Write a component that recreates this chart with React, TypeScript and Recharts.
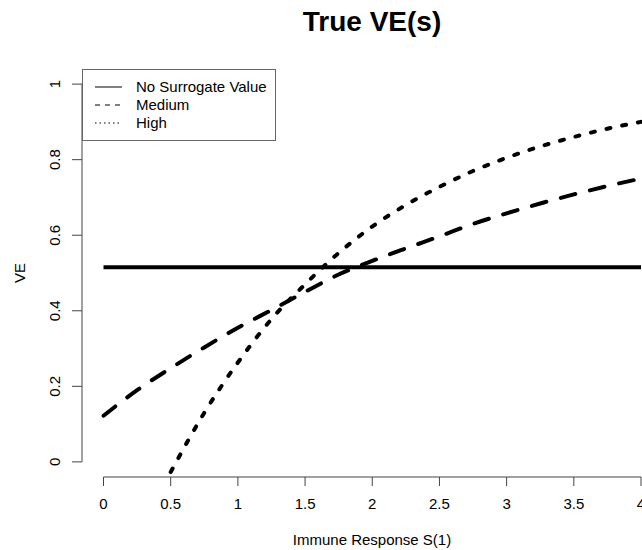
import React from "react";
import { LineChart, Line, XAxis, YAxis, ReferenceLine } from "recharts";

const FONT = "'Liberation Sans', Arial, Helvetica, sans-serif";

// immune response S(1)
const sValues = [0, 0.25, 0.5, 0.75, 1, 1.25, 1.5, 1.75, 2, 2.25, 2.5, 2.75, 3, 3.25, 3.5, 3.75, 4];
// VE curves
const noSurrogate = [0.515, 0.515, 0.515, 0.515, 0.515, 0.515, 0.515, 0.515, 0.515, 0.515, 0.515, 0.515, 0.515, 0.515, 0.515, 0.515, 0.515];
const medium = [0.122, 0.19, 0.248, 0.303, 0.355, 0.402, 0.45, 0.496, 0.532, 0.565, 0.597, 0.63, 0.658, 0.684, 0.708, 0.73, 0.75];
const high = [null, null, -0.027, 0.13, 0.263, 0.378, 0.47, 0.553, 0.623, 0.68, 0.728, 0.77, 0.805, 0.835, 0.86, 0.882, 0.9];

const xTicks = [0, 0.5, 1, 1.5, 2, 2.5, 3, 3.5, 4];
const yTicks = [0, 0.2, 0.4, 0.6, 0.8, 1];

const seriesNames = ["No Surrogate Value", "Medium", "High"];
const legendDash = ["", "5 5", "1.5 3"];

const rows = sValues.map((s, i) => ({
  s,
  none: noSurrogate[i],
  medium: medium[i],
  high: high[i],
}));

function YTick(props: any) {
  const { y, payload } = props;
  const x = 60.5;
  return (
    <text
      x={x}
      y={y}
      transform={`rotate(-90, ${x}, ${y})`}
      textAnchor="middle"
      fontSize={15}
      fontFamily={FONT}
      fill="#000"
    >
      {String(payload.value)}
    </text>
  );
}

export default function App() {
  return (
    <div
      style={{
        position: "absolute",
        left: 0,
        top: 0,
        width: 642,
        height: 550,
        overflow: "hidden",
        background: "#fff",
      }}
    >
      <LineChart
        width={700}
        height={550}
        data={rows}
        margin={{ top: 69, right: 37.5, bottom: 33, left: 0 }}
      >
        <XAxis
          type="number"
          dataKey="s"
          domain={[-0.16, 4.16]}
          ticks={xTicks}
          height={40}
          axisLine={false}
          tickLine={{ stroke: "#444" }}
          tickSize={9}
          tickMargin={12}
          tick={{ fill: "#000", fontSize: 15, fontFamily: FONT }}
        />
        <YAxis
          type="number"
          domain={[-0.04, 1.04]}
          ticks={yTicks}
          width={82}
          axisLine={false}
          tickLine={{ stroke: "#444" }}
          tickSize={10}
          tick={<YTick />}
        />
        <ReferenceLine
          segment={[{ x: 0, y: -0.04 }, { x: 4, y: -0.04 }]}
          stroke="#444"
          ifOverflow="visible"
        />
        <ReferenceLine
          segment={[{ x: -0.16, y: 0 }, { x: -0.16, y: 1 }]}
          stroke="#444"
          ifOverflow="visible"
        />
        <Line
          type="monotone"
          dataKey="none"
          stroke="#000"
          strokeWidth={4}
          dot={false}
          isAnimationActive={false}
        />
        <Line
          type="monotone"
          dataKey="medium"
          stroke="#000"
          strokeWidth={4}
          strokeDasharray="15 15"
          strokeLinecap="round"
          dot={false}
          isAnimationActive={false}
        />
        <Line
          type="monotone"
          dataKey="high"
          stroke="#000"
          strokeWidth={4}
          strokeDasharray="4 12"
          strokeLinecap="round"
          dot={false}
          isAnimationActive={false}
        />
      </LineChart>
      <svg
        width={642}
        height={550}
        style={{ position: "absolute", left: 0, top: 0, pointerEvents: "none" }}
      >
        <text x={372} y={31} textAnchor="middle" fontSize={28} fontWeight="bold" fontFamily={FONT} fill="#000">
          True VE(s)
        </text>
        <text x={372} y={545} textAnchor="middle" fontSize={15} fontFamily={FONT} fill="#000">
          Immune Response S(1)
        </text>
        <text
          x={25}
          y={273}
          transform="rotate(-90, 25, 273)"
          textAnchor="middle"
          fontSize={15}
          fontFamily={FONT}
          fill="#000"
        >
          VE
        </text>
        {/* legend box */}
        <g transform="translate(82, 69)">
          <rect x={0.5} y={0.5} width={193} height={71} fill="#fff" stroke="#666" strokeWidth={1} />
          {seriesNames.map((name, i) => (
            <g key={name}>
              <line
                x1={13}
                x2={40}
                y1={18 + i * 18}
                y2={18 + i * 18}
                stroke="#000"
                strokeWidth={1}
                strokeDasharray={legendDash[i] || undefined}
              />
              <text x={54} y={23.4 + i * 18} fontSize={15} fontFamily={FONT} fill="#000">
                {name}
              </text>
            </g>
          ))}
        </g>
      </svg>
    </div>
  );
}
